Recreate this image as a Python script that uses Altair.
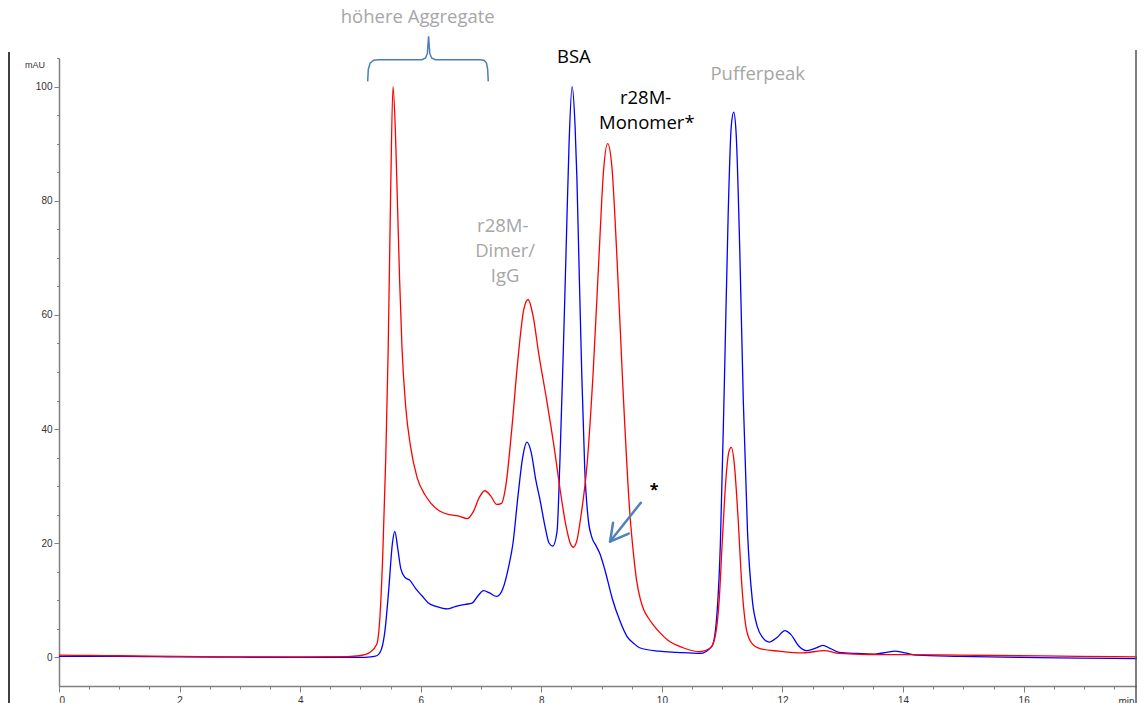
import altair as alt
import pandas as pd

# ---- data (time in min, absorbance in mAU) ----
red_t = [0, 0.5, 1, 1.99, 2.99, 3.98, 4.78, 4.98, 5.07, 5.16, 5.27, 5.32, 5.37, 5.42, 5.46, 5.5,
         5.54, 5.58, 5.61, 5.65, 5.69, 5.75, 5.83, 5.94, 6.07, 6.17, 6.32, 6.47, 6.62, 6.77,
         6.87, 6.97, 7.06, 7.16, 7.26, 7.34, 7.41, 7.51, 7.61, 7.71, 7.78, 7.86, 7.96, 8.09,
         8.21, 8.31, 8.41, 8.48, 8.53, 8.59, 8.66, 8.76, 8.86, 8.96, 9.03, 9.10, 9.17, 9.25,
         9.35, 9.47, 9.53, 9.58, 9.64, 9.70, 9.77, 9.85, 9.97, 10.10, 10.35, 10.63, 10.80,
         10.88, 10.95, 11.00, 11.06, 11.11, 11.15, 11.20, 11.26, 11.33, 11.40, 11.49, 11.64,
         11.94, 12.34, 12.69, 12.94, 13.43, 13.93, 14.93, 15.92, 16.92, 17.88]
red_v = [0.4, 0.35, 0.3, 0.2, 0.1, 0.1, 0.15, 0.3, 0.5, 0.9, 2.3, 6.6, 18, 35, 54, 81,
         100, 92, 81, 66, 54, 44, 37, 31.5, 28.5, 27, 25.6, 25.0, 24.8, 24.3,
         25.5, 28, 29.2, 28.3, 26.8, 27, 30, 40, 52, 61, 62.7, 60, 53, 45,
         37, 29.5, 23, 20, 19.3, 20.5, 25, 34, 50, 71, 85, 90, 86, 71,
         48, 25, 18, 13.5, 10.3, 8.3, 7.0, 5.8, 4.3, 3.0, 1.7, 1.0, 1.6,
         3.5, 10, 20, 31, 36, 36.8, 34, 25, 12, 5, 2.5, 1.5,
         1.1, 0.8, 1.2, 0.7, 0.5, 0.5, 0.4, 0.3, 0.2, 0.1]

blue_t = [0, 1, 1.99, 2.99, 3.98, 4.98, 5.17, 5.27, 5.35, 5.41, 5.47, 5.53, 5.57, 5.62, 5.67,
          5.74, 5.82, 5.92, 6.02, 6.12, 6.27, 6.44, 6.57, 6.74, 6.85, 6.95, 7.04, 7.14, 7.26,
          7.36, 7.46, 7.53, 7.61, 7.69, 7.76, 7.83, 7.91, 7.98, 8.06, 8.13, 8.19, 8.26, 8.31,
          8.36, 8.41, 8.46, 8.51, 8.56, 8.59, 8.62, 8.67, 8.72, 8.78, 8.84, 8.91, 8.97, 9.05,
          9.18, 9.30, 9.42, 9.53, 9.63, 9.95, 10.25, 10.63, 10.83, 10.90, 10.97, 11.04, 11.10,
          11.15, 11.19, 11.23, 11.29, 11.35, 11.42, 11.50, 11.58, 11.67, 11.78, 11.91, 12.04,
          12.14, 12.27, 12.39, 12.54, 12.67, 12.79, 12.94, 13.23, 13.53, 13.73, 13.86, 14.03,
          14.23, 14.93, 15.92, 16.92, 17.88]
blue_v = [0.2, 0.2, 0.1, 0.05, 0.0, 0.0, 0.1, 0.3, 1.5, 5, 12, 20, 22.1, 19, 15.5,
          14, 13.5, 12, 10.8, 9.6, 8.9, 8.5, 8.9, 9.3, 9.5, 10.8, 11.7, 11.3, 10.7,
          12, 16, 20, 28, 35, 37.7, 36, 31, 27.5, 23, 20, 19.5, 22, 35,
          52, 71, 90, 100, 93, 84, 71, 50, 33, 24, 21, 19.5, 18.2, 15.5,
          10.2, 6.5, 3.7, 2.5, 1.7, 1.1, 0.9, 0.7, 2, 6, 20, 50, 78,
          93, 95.5, 92, 72, 45, 22, 10, 5.5, 3.5, 2.7, 3.5, 4.7,
          4.0, 2.0, 1.2, 1.6, 2.1, 1.6, 0.9, 0.7, 0.6, 0.9, 1.1, 0.8,
          0.4, 0.2, 0.0, -0.1, -0.2]

x_major = list(range(0, 17, 2))
x_minor = [i * 0.5 for i in range(0, 36)]
y_major = list(range(0, 101, 20))
y_minor = list(range(0, 106, 5))

# annotations
ann_text = ["höhere Aggregate", "BSA", "r28M-", "Monomer*", "Pufferpeak", "r28M-", "Dimer/", "IgG"]
ann_t = [5.95, 8.54, 9.73, 9.75, 11.59, 7.36, 7.40, 7.40]
ann_v = [111.2, 104.2, 97.0, 92.5, 101.2, 74.6, 70.1, 65.8]
ann_col = ["#a6a6a6", "#000000", "#000000", "#000000", "#a6a6a6", "#a6a6a6", "#a6a6a6", "#a6a6a6"]

brace_t = [5.12, 5.13, 5.16, 5.22, 5.30, 6.02, 6.08, 6.11, 6.13, 6.15, 6.18, 6.24, 6.98, 7.05, 7.09, 7.11, 7.12]
brace_v = [100.9, 103.0, 104.1, 104.6, 104.7, 104.7, 105.0, 105.8, 108.8, 105.8, 105.0, 104.7, 104.7, 104.6, 104.1, 103.0, 100.9]

arrow_seg = ["shaft", "shaft", "head", "head", "head"]
arrow_t = [9.65, 9.14, 9.19, 9.14, 9.45]
arrow_v = [27.1, 20.3, 23.6, 20.3, 21.7]

# ---- chart ----
x_scale = alt.Scale(domain=[0, 17.88], nice=False, zero=False)
y_scale = alt.Scale(domain=[-5, 105], nice=False, zero=False)

AX = dict(grid=False, title=None, domainColor="#808080", domainWidth=1.5,
          tickColor="#808080", tickWidth=1, labelFont="Liberation Sans",
          labelFontSize=10, labelColor="#333333")

x_axis = alt.Axis(values=x_major, orient="bottom", tickSize=6, labelPadding=3, **AX)
y_axis = alt.Axis(values=y_major, orient="left", tickSize=5, labelPadding=2, **AX)

x_axis_minor = alt.Axis(values=x_minor, orient="bottom", tickSize=3, labels=False, domain=False,
                        grid=False, title=None, tickColor="#808080", tickWidth=1)
y_axis_minor = alt.Axis(values=y_minor, orient="left", tickSize=2.5, labels=False, domain=False,
                        grid=False, title=None, tickColor="#808080", tickWidth=1)

red_df = pd.DataFrame({"t": red_t, "v": red_v})
blue_df = pd.DataFrame({"t": blue_t, "v": blue_v})

blue_line = alt.Chart(blue_df).mark_line(color="#0000ff", strokeWidth=1.3, interpolate="monotone").encode(
    x=alt.X("t:Q", scale=x_scale, axis=x_axis),
    y=alt.Y("v:Q", scale=y_scale, axis=y_axis),
)
red_line = alt.Chart(red_df).mark_line(color="#ff0000", strokeWidth=1.3, interpolate="monotone").encode(
    x=alt.X("t:Q", scale=x_scale, axis=x_axis_minor),
    y=alt.Y("v:Q", scale=y_scale, axis=y_axis_minor),
)

ann_df = pd.DataFrame({"label": ann_text, "t": ann_t, "v": ann_v, "col": ann_col})
ann = alt.Chart(ann_df).mark_text(font="Open Sans", fontSize=18.5, align="center",
                                  baseline="alphabetic").encode(
    x=alt.X("t:Q", scale=x_scale, axis=None),
    y=alt.Y("v:Q", scale=y_scale, axis=None),
    text="label:N",
    color=alt.Color("col:N", scale=None),
)

star_df = pd.DataFrame({"label": ["*"], "t": [9.87], "v": [28.5]})
star = alt.Chart(star_df).mark_text(font="Open Sans", fontSize=16, fontWeight="bold",
                                    align="center", baseline="alphabetic", color="#000000").encode(
    x=alt.X("t:Q", scale=x_scale, axis=None),
    y=alt.Y("v:Q", scale=y_scale, axis=None),
    text="label:N",
)

mau_df = pd.DataFrame({"label": ["mAU"], "t": [-0.40], "v": [103.3]})
mau = alt.Chart(mau_df).mark_text(font="Liberation Sans", fontSize=9, align="center",
                                  baseline="alphabetic", color="#333333").encode(
    x=alt.X("t:Q", scale=x_scale, axis=None),
    y=alt.Y("v:Q", scale=y_scale, axis=None),
    text="label:N",
)

min_df = pd.DataFrame({"label": ["min"], "t": [17.84], "v": [-6.9]})
min_lbl = alt.Chart(min_df).mark_text(font="Liberation Sans", fontSize=10, align="right",
                                      baseline="top", color="#333333").encode(
    x=alt.X("t:Q", scale=x_scale, axis=None),
    y=alt.Y("v:Q", scale=y_scale, axis=None),
    text="label:N",
)

brace_df = pd.DataFrame({"t": brace_t, "v": brace_v, "o": list(range(len(brace_t)))})
brace = alt.Chart(brace_df).mark_line(color="#4a7ebb", strokeWidth=1.5, clip=False).encode(
    x=alt.X("t:Q", scale=x_scale, axis=None),
    y=alt.Y("v:Q", scale=y_scale, axis=None),
    order="o:Q",
)

arrow_df = pd.DataFrame({"seg": arrow_seg, "t": arrow_t, "v": arrow_v, "o": list(range(len(arrow_t)))})
arrow = alt.Chart(arrow_df).mark_line(color="#4f81bd", strokeWidth=2.5, strokeCap="round",
                                      strokeJoin="round").encode(
    x=alt.X("t:Q", scale=x_scale, axis=None),
    y=alt.Y("v:Q", scale=y_scale, axis=None),
    order="o:Q",
    detail="seg:N",
)

frame_left = alt.Chart(mau_df).mark_rule(color="#000000", strokeWidth=1.5).encode(
    x=alt.value(-50), y=alt.value(-6), y2=alt.value(645))
frame_right = alt.Chart(mau_df).mark_rule(color="#555555", strokeWidth=1.5).encode(
    x=alt.value(1077), y=alt.value(-8), y2=alt.value(645))

chart = alt.layer(
    blue_line, red_line, brace, arrow, ann, star, mau, min_lbl, frame_left, frame_right
).resolve_axis(x="independent", y="independent").properties(
    width=1078, height=628,
    autosize=alt.AutoSizeParams(type="none"),
    padding={"left": 51, "top": 50, "right": 0, "bottom": 17},
    background="#ffffff",
).configure_view(stroke=None)

chart.save("out.html", embed_options={"renderer": "svg", "actions": False})
